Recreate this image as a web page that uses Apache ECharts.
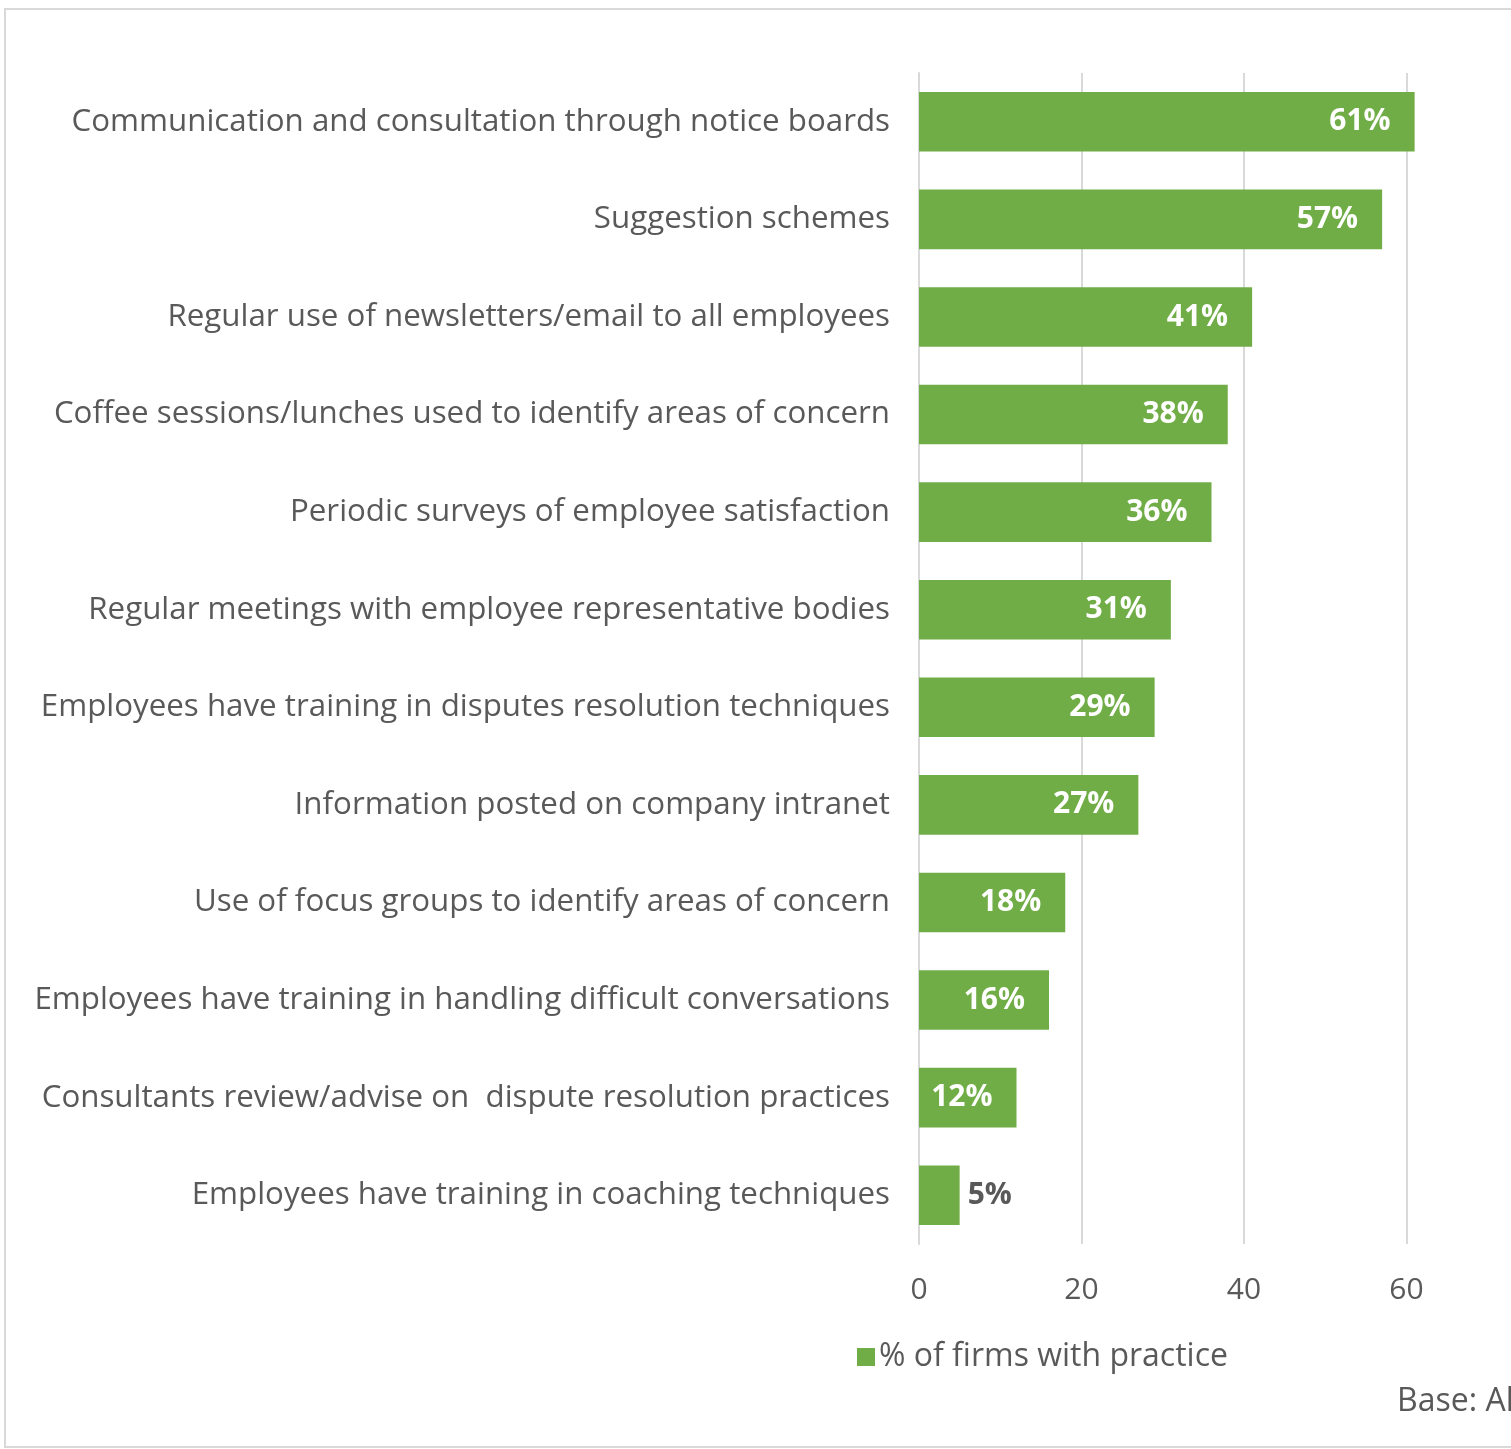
<!DOCTYPE html>
<html>
<head>
<meta charset="utf-8">
<title>Employee communication practices</title>
<script src="https://cdn.jsdelivr.net/npm/echarts@6/dist/echarts.min.js"></script>
<style>
  html, body { margin: 0; padding: 0; background: #ffffff; }
  #chart { width: 1511px; height: 1449px; }
</style>
</head>
<body>
<div id="chart"></div>
<script>
// Practices, listed top to bottom
const categories = [
  'Communication and consultation through notice boards',
  'Suggestion schemes',
  'Regular use of newsletters/email to all employees',
  'Coffee sessions/lunches used to identify areas of concern',
  'Periodic surveys of employee satisfaction',
  'Regular meetings with employee representative bodies',
  'Employees have training in disputes resolution techniques',
  'Information posted on company intranet',
  'Use of focus groups to identify areas of concern',
  'Employees have training in handling difficult conversations',
  'Consultants review/advise on  dispute resolution practices',
  'Employees have training in coaching techniques'
];
// Share of firms with each practice (%)
const values = [61, 57, 41, 38, 36, 31, 29, 27, 18, 16, 12, 5];
const seriesName = '% of firms with practice';
const baseNote = 'Base: All firms';

const FONT = '"Open Sans", Lato, sans-serif';
const GREEN = '#70AD47';
const TEXT = '#595959';
const GRID_LINE = '#D9D9D9';

// Small bars cannot hold their label inside, so it goes outside in grey
const barData = values.map(function (v) {
  if (v < 10) {
    return {
      value: v,
      label: { position: 'right', distance: 8, color: TEXT }
    };
  }
  return v;
});

const chart = echarts.init(document.getElementById('chart'), null, { renderer: 'canvas' });

chart.setOption({
  backgroundColor: '#ffffff',
  animation: false,
  graphic: [
    {
      type: 'rect',
      shape: { x: 5, y: 9, width: 1560, height: 1438 },
      style: { fill: 'none', stroke: GRID_LINE, lineWidth: 2 },
      z: 0
    },
    {
      type: 'text',
      left: 1397,
      top: 1386,
      style: { text: baseNote, font: '32px ' + FONT, fill: TEXT }
    }
  ],
  legend: {
    data: [seriesName],
    left: 852,
    top: 1336,
    itemWidth: 18,
    itemHeight: 18,
    itemGap: 8,
    icon: 'rect',
    textStyle: { fontFamily: FONT, fontSize: 32, color: TEXT, padding: [0, 0, 0, -1] }
  },
  grid: {
    left: 919,
    top: 73,
    width: 650,
    bottom: 205,
    containLabel: false,
    outerBoundsMode: 'none'
  },
  xAxis: {
    type: 'value',
    min: 0,
    max: 80,
    interval: 20,
    axisLine: { show: false },
    axisTick: { show: false },
    axisLabel: {
      fontFamily: FONT,
      fontSize: 30,
      color: TEXT,
      margin: 31
    },
    splitLine: { show: true, lineStyle: { color: GRID_LINE, width: 2 } }
  },
  yAxis: {
    type: 'category',
    inverse: true,
    data: categories,
    axisLine: { show: true, lineStyle: { color: GRID_LINE, width: 2 } },
    axisTick: { show: false },
    axisLabel: {
      fontFamily: FONT,
      fontSize: 31.3,
      color: TEXT,
      margin: 29
    }
  },
  series: [
    {
      name: seriesName,
      type: 'bar',
      data: barData,
      barWidth: '61%',
      itemStyle: { color: GREEN },
      label: {
        show: true,
        position: 'insideRight',
        distance: 24,
        formatter: '{c}%',
        fontFamily: FONT,
        fontSize: 30,
        fontWeight: 'bold',
        color: '#ffffff'
      }
    }
  ]
});
</script>
</body>
</html>
